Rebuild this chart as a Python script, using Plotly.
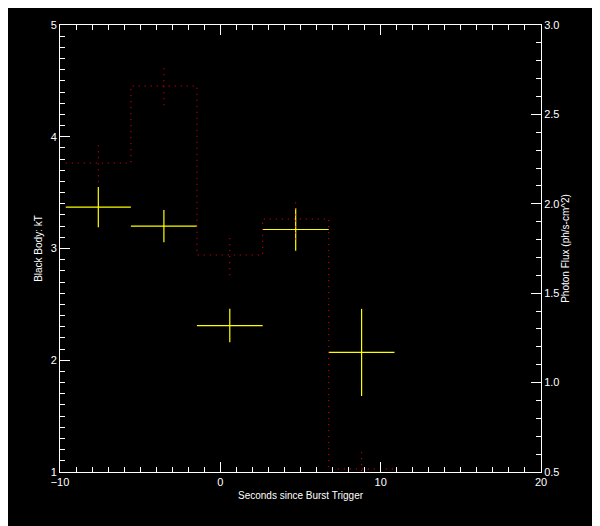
import plotly.graph_objects as go

# Time bins (seconds since burst trigger)
bin_edges = [-9.64, -5.58, -1.46, 2.64, 6.76, 10.86]

# Black body kT (left axis) with errors
kt_values = [3.37, 3.20, 2.31, 3.17, 2.07]
kt_errors = [0.18, 0.145, 0.15, 0.19, 0.39]

# Photon flux (right axis) with errors
flux_values = [2.228, 2.659, 1.714, 1.915, 0.517]
flux_errors = [0.108, 0.108, 0.113, 0.114, 0.113]

# Tick labels
x_tick_vals = [-10, 0, 10, 20]
y_tick_vals = [1, 2, 3, 4, 5]
y2_tick_vals = [0.5, 1.0, 1.5, 2.0, 2.5, 3.0]

centers = [(a + b) / 2 for a, b in zip(bin_edges[:-1], bin_edges[1:])]
half_widths = [(b - a) / 2 for a, b in zip(bin_edges[:-1], bin_edges[1:])]

fig = go.Figure()

# Flux histogram (dotted red step line)
fig.add_trace(go.Scatter(
    x=bin_edges,
    y=flux_values + [flux_values[-1]],
    mode="lines",
    line=dict(shape="hv", color="#ff0000", width=1, dash="1px,5px"),
    yaxis="y2",
    hoverinfo="skip",
))

# Flux error bars (dotted red vertical lines)
ex, ey = [], []
for c, f, e in zip(centers, flux_values, flux_errors):
    ex += [c, c, None]
    ey += [f - e, f + e, None]
fig.add_trace(go.Scatter(
    x=ex, y=ey, mode="lines",
    line=dict(color="#ff0000", width=1, dash="1px,5px"),
    yaxis="y2", hoverinfo="skip",
))

# kT crosses (yellow)
fig.add_trace(go.Scatter(
    x=centers, y=kt_values, mode="markers",
    marker=dict(size=1, color="#ffff00"),
    error_x=dict(type="data", array=half_widths, width=0, thickness=1.2, color="#ffff00"),
    error_y=dict(type="data", array=kt_errors, width=0, thickness=1.2, color="#ffff00"),
))

axis_common = dict(
    showline=True, linecolor="white", linewidth=1,
    ticks="inside", ticklen=10, tickwidth=1, tickcolor="white",
    showgrid=False, zeroline=False,
    tickfont=dict(size=11),
)

fig.update_layout(
    width=592, height=518,
    margin=dict(l=52, r=59, t=17, b=54),
    paper_bgcolor="black", plot_bgcolor="black",
    showlegend=False,
    font=dict(family="Liberation Sans", size=10, color="white"),
    xaxis=dict(
        range=[-10, 20], tickvals=x_tick_vals, mirror="ticks",
        minor=dict(dtick=1, ticklen=5, tickcolor="white", ticks="inside", showgrid=False),
        title=dict(text="Seconds since Burst Trigger", standoff=4, font=dict(size=10)),
        **axis_common,
    ),
    yaxis=dict(
        range=[1, 5], tickvals=y_tick_vals,
        minor=dict(dtick=0.1, ticklen=5, tickcolor="white", ticks="inside", showgrid=False),
        title=dict(text="Black Body: kT", standoff=6, font=dict(size=10)),
        **axis_common,
    ),
    yaxis2=dict(
        range=[0.5, 3.0], tickvals=y2_tick_vals, tickformat=".1f",
        overlaying="y", side="right",
        minor=dict(dtick=0.1, ticklen=5, tickcolor="white", ticks="inside", showgrid=False),
        title=dict(text="Photon Flux (ph/s-cm^2)", standoff=3, font=dict(size=10)),
        **axis_common,
    ),
)

fig.write_html("out.html")
